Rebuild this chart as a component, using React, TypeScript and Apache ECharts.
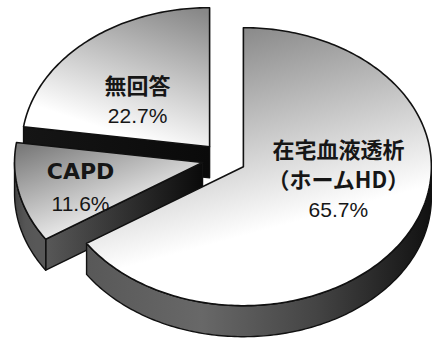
import React, { useEffect, useRef } from 'react';
import * as echarts from 'echarts';

// ---- data ----
const categories = ['在宅血液透析', 'CAPD', '無回答'];
const categoryLines = [['在宅血液透析', '（ホームHD）'], ['CAPD'], ['無回答']];
const values = [65.7, 11.6, 22.7];
const percentLabels = values.map((v) => v.toFixed(1) + '%');

// ---- layout / style (not data) ----
const CX = 224;
const CY = 159;
const RX = 188;
const RY = 139;
const DEPTH = 31;
const EXPLODE = 22;
const LABEL_OFFSET = [
  [95, -19],
  [-122, 9],
  [-72, -63],
];
const NAME_GAP = 30;
const PCT_GAP = 32;
const NAME_FONT = [
  'bold 22px "Noto Sans CJK JP"',
  'bold 22px "DejaVu Sans"',
  'bold 22px "Noto Sans CJK JP"',
];
const PCT_FONT = '21px "Liberation Sans"';
const TOP_FILL = [
  { x: 0.2, y: 0, x2: 0.45, y2: 0.75, c0: '#7c7c7c', c1: '#ffffff' },
  { x: 0.1, y: 0, x2: 0.7, y2: 0.85, c0: '#7a7a7a', c1: '#ffffff' },
  { x: 0.9, y: 0, x2: 0.5, y2: 0.9, c0: '#888888', c1: '#ffffff' },
];
const OUTER_WALL = [
  ['#585858', '#686868', '#444444', '#111111'],
  ['#444444', '#555555', '#585858', '#585858'],
  ['#444444', '#444444', '#444444', '#444444'],
];
const RADIAL_WALL = [
  ['#333333', '#111111'],
  ['#585858', '#0a0a0a'],
  ['#151515', '#0a0a0a'],
];
const STROKE = '#111111';
const TEXT = '#161616';

const D2R = Math.PI / 180;

function gradient(x: number, y: number, x2: number, y2: number, stops: string[]) {
  return {
    type: 'linear',
    x,
    y,
    x2,
    y2,
    colorStops: stops.map((c, i) => ({ offset: i / (stops.length - 1), color: c })),
  };
}

function renderSlice(params: any, api: any) {
  const i = params.dataIndex;
  const total = values.reduce((s, v) => s + v, 0);
  let start = 0;
  for (let k = 0; k < i; k++) start += (values[k] / total) * 360;
  const span = (api.value(0) / total) * 360;
  const end = start + span;
  const mid = (start + end) / 2;

  const vx = CX + EXPLODE * Math.sin(mid * D2R);
  const vy = CY - EXPLODE * (RY / RX) * Math.cos(mid * D2R);
  const pt = (deg: number, dy = 0) => [
    vx + RX * Math.sin(deg * D2R),
    vy - RY * Math.cos(deg * D2R) + dy,
  ];
  const arc = (a: number, b: number, dy = 0) => {
    const pts: number[][] = [];
    const n = Math.max(2, Math.ceil(Math.abs(b - a)));
    for (let s = 0; s <= n; s++) pts.push(pt(a + ((b - a) * s) / n, dy));
    return pts;
  };

  // paint order: more "front" slices are drawn later
  const zBase = Math.round((-Math.cos(mid * D2R) + 2) * 100);
  const children: any[] = [];
  let zi = 0;
  const add = (el: any) => {
    el.z2 = zBase + zi++;
    children.push(el);
  };

  const wallStyle = (stops: string[]) => ({
    fill: gradient(0, 0, 1, 0, stops),
    stroke: STROKE,
    lineWidth: 1.4,
    lineJoin: 'round',
  });

  // radial wall at start edge
  if (Math.sin(start * D2R) < -1e-6) {
    const p = pt(start);
    add({
      type: 'polygon',
      shape: { points: [[vx, vy], p, [p[0], p[1] + DEPTH], [vx, vy + DEPTH]] },
      style: wallStyle(RADIAL_WALL[i]),
    });
  }
  // radial wall at end edge
  if (Math.sin(end * D2R) > 1e-6) {
    const p = pt(end);
    add({
      type: 'polygon',
      shape: { points: [[vx, vy], p, [p[0], p[1] + DEPTH], [vx, vy + DEPTH]] },
      style: wallStyle(RADIAL_WALL[i]),
    });
  }
  // outer (front) wall
  const lo = Math.max(start, 90);
  const hi = Math.min(end, 270);
  if (hi > lo) {
    const top = arc(lo, hi);
    const bottom = arc(hi, lo, DEPTH);
    add({
      type: 'polygon',
      shape: { points: top.concat(bottom) },
      style: wallStyle(OUTER_WALL[i]),
    });
  }
  // top face
  const tf = TOP_FILL[i];
  add({
    type: 'polygon',
    shape: { points: [[vx, vy]].concat(arc(start, end)) },
    style: {
      fill: gradient(tf.x, tf.y, tf.x2, tf.y2, [tf.c0, tf.c1]),
      stroke: STROKE,
      lineWidth: 1.6,
      lineJoin: 'round',
    },
  });

  // labels
  const lx = vx + LABEL_OFFSET[i][0];
  let ly = vy + LABEL_OFFSET[i][1];
  const lines = categoryLines[i];
  lines.forEach((t, li) => {
    add({
      type: 'text',
      x: lx,
      y: ly,
      style: { text: t, font: NAME_FONT[i], fill: TEXT, align: 'center', verticalAlign: 'middle' },
    });
    ly += li < lines.length - 1 ? NAME_GAP : PCT_GAP;
  });
  add({
    type: 'text',
    x: lx,
    y: ly,
    style: { text: percentLabels[i], font: PCT_FONT, fill: TEXT, align: 'center', verticalAlign: 'middle' },
  });

  return { type: 'group', children };
}

export default function App() {
  const ref = useRef<HTMLDivElement>(null);
  useEffect(() => {
    document.body.style.margin = '0';
    if (!ref.current) return;
    const chart = echarts.init(ref.current, undefined, { renderer: 'svg' });
    chart.setOption({
      animation: false,
      backgroundColor: '#ffffff',
      series: [
        {
          type: 'custom',
          coordinateSystem: 'none',
          silent: true,
          renderItem: renderSlice,
          data: values.map((v, i) => ({ name: categories[i], value: [v] })),
        },
      ],
    });
    return () => chart.dispose();
  }, []);
  return <div ref={ref} style={{ width: 432, height: 343 }} />;
}
